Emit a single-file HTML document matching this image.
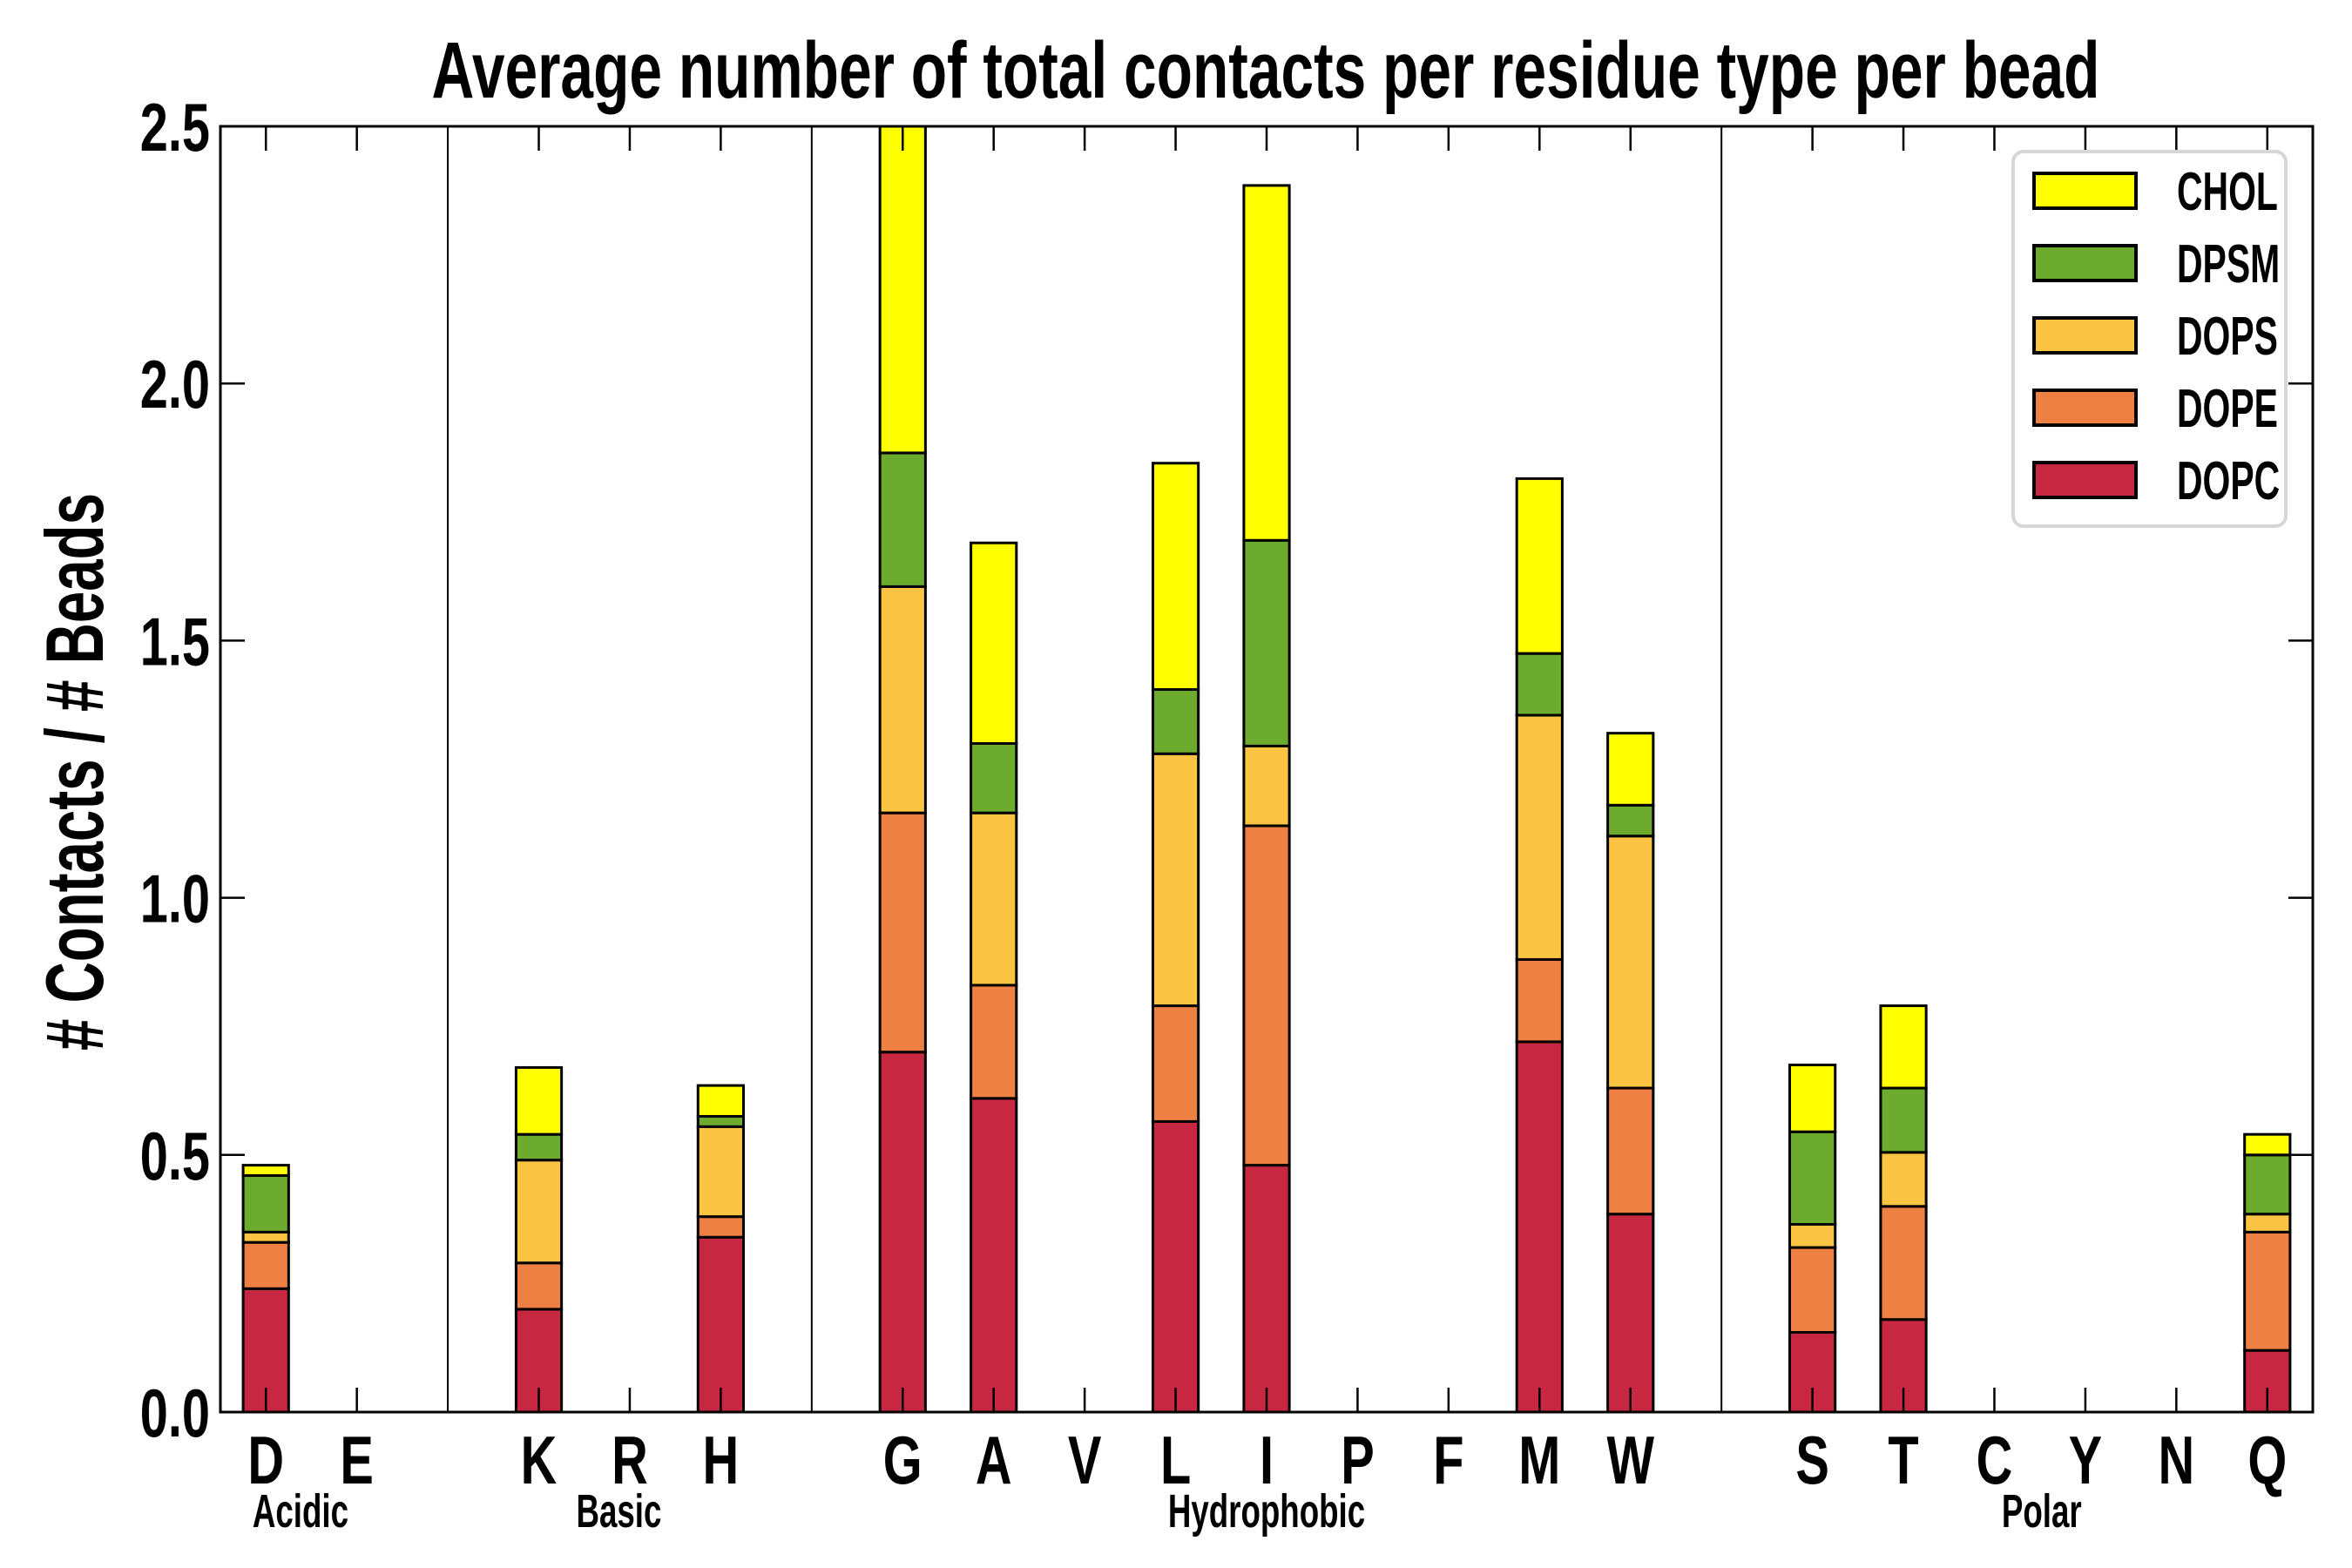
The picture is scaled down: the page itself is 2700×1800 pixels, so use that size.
<!DOCTYPE html>
<html><head><meta charset="utf-8"><style>
body{margin:0;background:#fff}
svg{display:block}
text{font-family:"Liberation Sans Narrow","Liberation Sans",sans-serif;font-weight:bold;fill:#000}
</style></head><body>
<svg id="chart" width="2700" height="1800" viewBox="0 0 2700 1800" xmlns="http://www.w3.org/2000/svg"></svg>
<script>
const categories=["D","E","","K","R","H","","G","A","V","L","I","P","F","M","W","","S","T","C","Y","N","Q"];
const series=["DOPC","DOPE","DOPS","DPSM","CHOL"];
const colors=["#c72741","#ef8044","#fbc543","#6dab2e","#ffff00"];
const dopc=[0.24,0,0,0.20,0,0.34,0,0.70,0.61,0,0.565,0.48,0,0,0.72,0.385,0,0.155,0.18,0,0,0,0.12];
const dope=[0.09,0,0,0.09,0,0.04,0,0.465,0.22,0,0.225,0.66,0,0,0.16,0.245,0,0.165,0.22,0,0,0,0.23];
const dops=[0.02,0,0,0.20,0,0.175,0,0.44,0.335,0,0.49,0.155,0,0,0.475,0.49,0,0.045,0.105,0,0,0,0.035];
const dpsm=[0.11,0,0,0.05,0,0.02,0,0.26,0.135,0,0.125,0.40,0,0,0.12,0.06,0,0.18,0.125,0,0,0,0.115];
const chol=[0.02,0,0,0.13,0,0.06,0,0.70,0.39,0,0.44,0.69,0,0,0.34,0.14,0,0.13,0.16,0,0,0,0.04];
const layers=[dopc,dope,dops,dpsm,chol];
const yTicks=["0.0","0.5","1.0","1.5","2.0","2.5"];
const groupNames=["Acidic","Basic","Hydrophobic","Polar"];
const groupCenters=[0.38,3.88,11.0,19.52];

const svg=document.getElementById('chart');
const NS="http://www.w3.org/2000/svg";
const L=253,R=2655,T=145,B=1621;
const yMax=2.5;
const xs=i=>L+(i+0.5)/23*(R-L);
const ys=v=>B-v/yMax*(B-T);
const bw=0.5/23*(R-L);
function el(tag,attrs,parent){const e=document.createElementNS(NS,tag);for(const k in attrs)e.setAttribute(k,attrs[k]);(parent||svg).appendChild(e);return e;}
function ntext(x,y,anchor,size,str,parent,sx){
  const t=el('text',{x:0,y:0,'text-anchor':anchor,'font-size':size,transform:`translate(${x},${y}) scale(${sx||0.74},1)`},parent);
  t.textContent=str;return t;
}

const defs=el('defs',{});
const cp=el('clipPath',{id:'pc'},defs);
el('rect',{x:L,y:T,width:R-L,height:B-T},cp);
const g=el('g',{'clip-path':'url(#pc)'});



categories.forEach((c,i)=>{
  if(c===""){
    const s=el('line',{x1:xs(i),x2:xs(i),y1:T,y2:B,stroke:'#000','stroke-width':2},g);
    
    
  }
});
categories.forEach((c,i)=>{
  let base=0;
  layers.forEach((arr,k)=>{
    const v=arr[i];
    const y0=ys(base),y1=ys(base+v);
    const r=el('rect',{x:xs(i)-bw/2,y:y1,width:bw,height:Math.max(y0-y1,0),fill:colors[k],stroke:'#000','stroke-width':3},g);
    
    
    base+=v;
  });
});
categories.forEach((c,i)=>{
  if(c==="")return;
  el('line',{x1:xs(i),x2:xs(i),y1:B,y2:B-28,stroke:'#000','stroke-width':2.5});
  el('line',{x1:xs(i),x2:xs(i),y1:T,y2:T+28,stroke:'#000','stroke-width':2.5});
  const t=ntext(xs(i),B+82,'middle',78,c);
  
  
});
yTicks.forEach(s=>{
  const v=parseFloat(s),y=ys(v);
  el('line',{x1:L,x2:L+28,y1:y,y2:y,stroke:'#000','stroke-width':2.5});
  el('line',{x1:R,x2:R-28,y1:y,y2:y,stroke:'#000','stroke-width':2.5});
  const t=ntext(L-12,y+28,'end',78,s);
  
  
});
groupNames.forEach((name,j)=>{
  const t=ntext(xs(groupCenters[j]),B+132,'middle',54,name,null,0.68);
  
  
});
const fr=el('rect',{x:L,y:T,width:R-L,height:B-T,fill:'none',stroke:'#000','stroke-width':3});


const ti=el('text',{x:1453,y:112,'text-anchor':'middle','font-size':92,textLength:1915,lengthAdjust:'spacingAndGlyphs'});
ti.textContent='Average number of total contacts per residue type per bead';


const yl=el('text',{x:0,y:0,'text-anchor':'middle','font-size':94,textLength:640,lengthAdjust:'spacingAndGlyphs',transform:'translate(118,886) rotate(-90)'});
yl.textContent='# Contacts / # Beads';


const lg=el('g',{});


el('rect',{x:2311,y:174,width:313,height:430,rx:12,fill:'#fff',stroke:'#d6d6d6','stroke-width':4},lg);
for(let k=4;k>=0;k--){
  const row=4-k,y=199+row*83;
  const e=el('g',{},lg);
  
  
  el('rect',{x:2335,y:y,width:117,height:40,fill:colors[k],stroke:'#000','stroke-width':4},e);
  ntext(2499,y+42,'start',62,series[k],e,0.66);
}
</script>
</body></html>
